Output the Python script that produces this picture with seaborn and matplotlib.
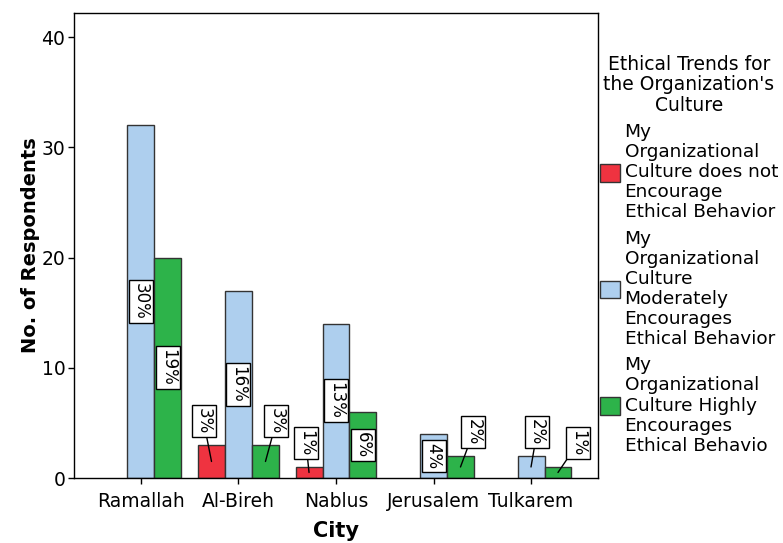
import matplotlib
matplotlib.use("Agg")
import matplotlib.pyplot as plt
import pandas as pd
import seaborn as sns
from matplotlib.patches import Patch

# Data
cities = ["Ramallah", "Al-Bireh", "Nablus", "Jerusalem", "Tulkarem"]
trends = ["Does not encourage", "Moderately encourages", "Highly encourages"]
legend_labels = [
    "My\nOrganizational\nCulture does not\nEncourage\nEthical Behavior",
    "My\nOrganizational\nCulture\nModerately\nEncourages\nEthical Behavior",
    "My\nOrganizational\nCulture Highly\nEncourages\nEthical Behavio",
]
does_not_encourage = [0, 3, 1, 0, 0]
moderately_encourages = [32, 17, 14, 4, 2]
highly_encourages = [20, 3, 6, 2, 1]

colors = ["#ef3340", "#aecfee", "#2db34a"]
edge = "#333333"

# Long-format table for seaborn, empty bars dropped
df = pd.DataFrame({
    "City": cities * 3,
    "Trend": [t for t in trends for _ in cities],
    "Count": does_not_encourage + moderately_encourages + highly_encourages,
})
df = df[df["Count"] > 0]
total = df["Count"].sum()

sns.set_theme(style="ticks")
plt.rcParams["font.family"] = ["DejaVu Sans"]
plt.rcParams.update({
    "axes.edgecolor": "black",
    "text.color": "black",
    "axes.labelcolor": "black",
    "xtick.color": "black",
    "ytick.color": "black",
})

W, H = 783, 543
fig = plt.figure(figsize=(W / 100, H / 100), dpi=100)
ax = fig.add_axes([74 / W, 1 - 478 / H, (598 - 74) / W, (478 - 13) / H])

bar_width = 0.83
sns.barplot(
    data=df, x="City", y="Count", hue="Trend",
    order=cities, hue_order=trends, palette=colors,
    width=bar_width, edgecolor=edge, linewidth=1, saturation=1,
    errorbar=None, legend=False, ax=ax,
)

ax.set_xlim(-0.687, 4.687)
ax.set_ylim(0, 42.2)
ax.set_yticks([0, 10, 20, 30, 40])

# pixel -> data scale factors
px_x = 1 / 97.5
px_y = 42.2 / 465

# small horizontal nudges (pixels) for labels that sit above short bars
nudges = {(1, 0): -8, (1, 2): 11, (2, 0): -3, (3, 2): 13, (4, 1): 6, (4, 2): 20}

box = dict(boxstyle="square,pad=0.18", facecolor="white", edgecolor="black", linewidth=1)
for bar in ax.patches:
    h = bar.get_height()
    if not h or h != h:
        continue
    x = bar.get_x() + bar.get_width() / 2
    ci = int(round(x))
    ti = int(round((x - ci) / (bar_width / 3))) + 1
    label = f"{round(h / total * 100)}%"
    if h >= 4:
        ax.text(x, h / 2, label, rotation=270, ha="center", va="center",
                fontsize=12, bbox=box)
    else:
        tx = x + nudges.get((ci, ti), 0) * px_x
        ty = h + 24 * px_y
        ax.annotate(label, xy=(x, h / 2), xytext=(tx, ty), textcoords="data",
                    rotation=270, ha="center", va="center", fontsize=12, bbox=box,
                    arrowprops=dict(arrowstyle="-", color="black", lw=1,
                                    shrinkA=0, shrinkB=0))

ax.tick_params(axis="y", length=4.3, width=1, labelsize=13.5, pad=2)
ax.tick_params(axis="x", length=4, width=1, labelsize=13.5, pad=6)
for s in ax.spines.values():
    s.set_color("black")
    s.set_linewidth(1)

ax.set_xlabel("City", fontsize=15, fontweight="bold", labelpad=7)
ax.set_ylabel("No. of Respondents", fontsize=14, fontweight="bold", labelpad=1)

handles = [Patch(facecolor=c, edgecolor=edge, linewidth=1) for c in colors]
leg = ax.legend(
    handles, legend_labels,
    title="Ethical Trends for\nthe Organization's\nCulture",
    loc="upper left", bbox_to_anchor=(1.003, 0.91), frameon=False,
    fontsize=13.3, title_fontsize=13.5,
    handlelength=1.1, handleheight=1.1, handletextpad=0.25,
    labelspacing=0.45, borderpad=0, borderaxespad=0, alignment="center",
)
leg.get_title().set_multialignment("center")
leg.get_title().set_linespacing(1.09)
for t in leg.get_texts():
    t.set_linespacing(1.15)

fig.savefig("out.png", dpi=100)
